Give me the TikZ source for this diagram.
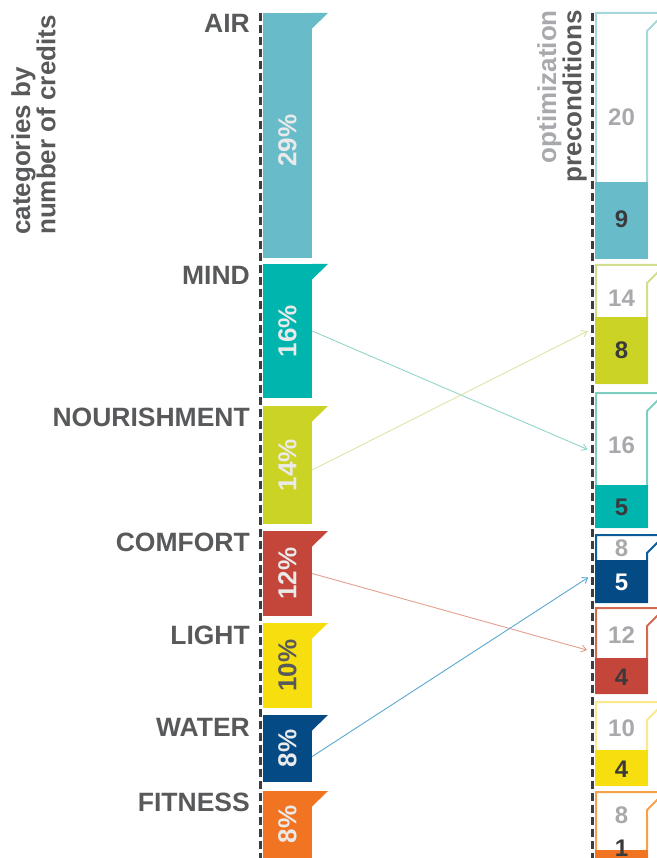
\documentclass[tikz,border=0pt]{standalone}
\usepackage{fontspec}
\setmainfont{Liberation Sans}
\usetikzlibrary{arrows.meta}

% category colours
\definecolor{airC}{HTML}{68BCCA}
\definecolor{mindC}{HTML}{00B5AD}
\definecolor{nourC}{HTML}{CBD324}
\definecolor{comfC}{HTML}{C4453A}
\definecolor{lightC}{HTML}{F7DF0F}
\definecolor{waterC}{HTML}{044A85}
\definecolor{fitC}{HTML}{F07422}
% outline colours of the precondition boxes
\definecolor{airO}{HTML}{A6D7DA}
\definecolor{nourO}{HTML}{CFDF8E}
\definecolor{mindO}{HTML}{7FCFC1}
\definecolor{waterO}{HTML}{0B5C98}
\definecolor{comfO}{HTML}{D26A50}
\definecolor{lightO}{HTML}{FDE88C}
\definecolor{fitO}{HTML}{F7A04A}
% connector colours
\definecolor{mindL}{HTML}{93D5CC}
\definecolor{nourL}{HTML}{DCE5A6}
\definecolor{comfL}{HTML}{E2A08D}
\definecolor{waterL}{HTML}{5BA8CF}
% text colours
\definecolor{labelgray}{HTML}{58595B}
\definecolor{softgray}{HTML}{A7A9AC}
\definecolor{numdark}{HTML}{3A3A3C}
\definecolor{pctwhite}{HTML}{EAEAEA}
\definecolor{rulegray}{HTML}{3D3D3F}

% a category bar with its flag
\newcommand{\catbar}[4]{%
  \node[catbar, fill=#4, minimum height={#3-#2}] (#1) at (287.5,{(#2+#3)/2}) {};
  \fill[#4] (311.5,#2) -- (328,#2) -- (311.5,{#2+16}) -- cycle;
}
% an outlined precondition box with its filled part
\newcommand{\precbox}[6]{%
  \node[precbox, minimum height={#4-#2}] (#1) at (621.5,{(#2+#4)/2}) {};
  \draw[#5, line width=2pt, line join=miter]
    (647,#4) -- (647,{#2+18}) -- (665,#2) -- (596,#2) -- (596,#4) -- cycle;
  \fill[#6] (595,#3) rectangle (648,{#4+1});
}

\begin{document}
\begin{tikzpicture}[x=1pt,y=-1pt,
  catbar/.style={rectangle, inner sep=0pt, minimum width=49pt},
  precbox/.style={rectangle, inner sep=0pt, minimum width=51pt},
  catlabel/.style={anchor=base east, inner sep=0pt, text=labelgray,
    font=\fontsize{26.5}{27}\selectfont\bfseries},
  pct/.style={rotate=90, inner sep=0pt, text=pctwhite,
    font=\fontsize{26}{27}\selectfont\bfseries},
  num/.style={inner sep=0pt, font=\fontsize{24}{25}\selectfont\bfseries},
  head/.style={inner sep=0pt, rotate=90, text=labelgray,
    font=\fontsize{26}{23}\selectfont\bfseries},
  divider/.style={rulegray, line width=3pt, dash pattern=on 8pt off 4pt},
  conn/.style={line width=0.9pt, -{Straight Barb[length=5pt,width=7pt]},
    shorten >=9pt}
]
\useasboundingbox (0,0) rectangle (656,858);

% dashed rules
\coordinate (lrule-top) at (260,13);
\coordinate (lrule-bot) at (260,858);
\coordinate (rrule-top) at (592.5,13);
\coordinate (rrule-bot) at (592.5,858);
\draw[divider] (lrule-top) -- (lrule-bot);
\draw[divider] (rrule-top) -- (rrule-bot);

% headings
\node[head, anchor=north west, align=left] (cat-head) at (11,235)
  {categories by\\number of credits};
\node[head, anchor=north east, align=right] (pre-head) at (537,10)
  {\textcolor{softgray}{optimization}\\preconditions};

% category bars
\catbar{air}{13}{258}{airC}
\catbar{mind}{264}{398}{mindC}
\catbar{nour}{406}{524}{nourC}
\catbar{comf}{531}{616}{comfC}
\catbar{light}{623}{708}{lightC}
\catbar{water}{715}{782}{waterC}
\catbar{fit}{791}{858}{fitC}

\node[catlabel] (air-lbl) at (250,33) {AIR};
\node[catlabel] (mind-lbl) at (250,284) {MIND};
\node[catlabel] (nour-lbl) at (250,426) {NOURISHMENT};
\node[catlabel] (comf-lbl) at (250,551) {COMFORT};
\node[catlabel] (light-lbl) at (250,644) {LIGHT};
\node[catlabel] (water-lbl) at (250,736) {WATER};
\node[catlabel] (fit-lbl) at (250,811) {FITNESS};

\node[pct] (air-pct) at ([yshift=-5pt]air.center) {29\%};
\node[pct] (mind-pct) at (mind.center) {16\%};
\node[pct] (nour-pct) at (nour.center) {14\%};
\node[pct] (comf-pct) at (comf.center) {12\%};
\node[pct, text=labelgray] (light-pct) at (light.center) {10\%};
\node[pct] (water-pct) at (water.center) {8\%};
\node[pct] (fit-pct) at (fit.center) {8\%};

% precondition boxes
\precbox{p-air}{13}{182}{258}{airO}{airC}
\precbox{p-nour}{265}{317}{383}{nourO}{nourC}
\precbox{p-mind}{393}{485}{527}{mindO}{mindC}
\precbox{p-water}{535}{560}{602}{waterO}{waterC}
\precbox{p-comf}{608}{658}{693}{comfO}{comfC}
\precbox{p-light}{702}{750}{785}{lightO}{lightC}
\precbox{p-fit}{792}{850}{880}{fitO}{fitC}

\node[num, text=softgray] (p-air-all) at (621.5,117) {20};
\node[num, text=numdark] (p-air-pre) at (621.5,219) {9};
\node[num, text=softgray] (p-nour-all) at (621.5,298) {14};
\node[num, text=numdark] (p-nour-pre) at (621.5,350) {8};
\node[num, text=softgray] (p-mind-all) at (621.5,445) {16};
\node[num, text=numdark] (p-mind-pre) at (621.5,507) {5};
\node[num, text=softgray] (p-water-all) at (621.5,548) {8};
\node[num, text=white] (p-water-pre) at (621.5,582) {5};
\node[num, text=softgray] (p-comf-all) at (621.5,635) {12};
\node[num, text=numdark] (p-comf-pre) at (621.5,677) {4};
\node[num, text=softgray] (p-light-all) at (621.5,728) {10};
\node[num, text=numdark] (p-light-pre) at (621.5,769) {4};
\node[num, text=softgray] (p-fit-all) at (621.5,815) {8};
\node[num, text=numdark] (p-fit-pre) at (621.5,848) {1};

% connectors from categories to their precondition boxes
\draw[conn, mindL] (mind.east) -- ([yshift=7pt]p-mind.west);
\draw[conn, nourL] ([yshift=-5pt]nour.east) -- ([yshift=-3pt]p-nour.west);
\draw[conn, comfL] (comf.east) -- ([yshift=-2pt]p-comf.west);
\draw[conn, waterL] ([yshift=-8pt]water.east) -- ([yshift=-4pt]p-water.west);
\end{tikzpicture}
\end{document}
